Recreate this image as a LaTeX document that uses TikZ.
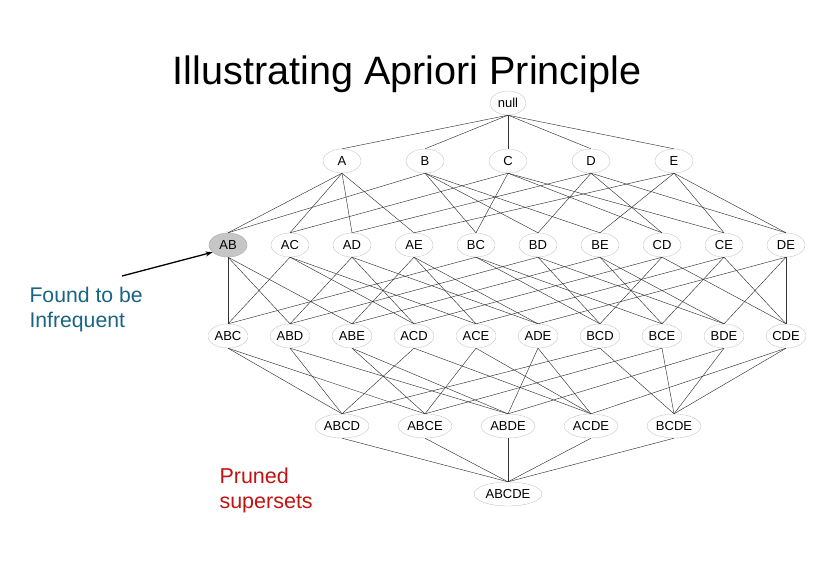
\documentclass[tikz,border=0pt]{standalone}
\usepackage{fontspec}
\setmainfont{Liberation Sans}
\usepackage{tikz}
\usetikzlibrary{shapes.geometric, arrows.meta}
\definecolor{notetxt}{RGB}{24,100,132}
\definecolor{prunetxt}{RGB}{196,18,18}

\begin{document}
\begin{tikzpicture}[x=1pt, y=-1pt,
  item/.style={ellipse, draw=gray!45, thin, inner sep=0pt,
               minimum height=24pt, font=\fontsize{13}{13}\selectfont},
  link/.style={draw=black!80, line width=0.45pt}]
  \useasboundingbox (0,0) rectangle (813,566);

  \node[anchor=base, font=\fontsize{39.6}{40}\selectfont] (title)
    at (407,84) {Illustrating Apriori Principle};

  % the itemset lattice
  \node[item, minimum width=36pt] (null) at (508,103) {null};
  \foreach \n [count=\i from 0] in {A,B,C,D,E}
    \node[item, minimum width=38pt] (\n) at ({508+83*(\i-2)},161) {\n};
  \foreach \n [count=\i from 0] in {AB,AC,AD,AE,BC,BD,BE,CD,CE,DE}
    \node[item, minimum width=38pt] (\n) at ({228+62*\i},245) {\n};
  \foreach \n [count=\i from 0] in {ABC,ABD,ABE,ACD,ACE,ADE,BCD,BCE,BDE,CDE}
    \node[item, minimum width=40pt] (\n) at ({228+62*\i},336) {\n};
  \foreach \n [count=\i from 0] in {ABCD,ABCE,ABDE,ACDE,BCDE}
    \node[item, minimum width=54pt] (\n) at ({508+83*(\i-2)},426) {\n};
  \node[item, minimum width=68pt] (ABCDE) at (508,494) {ABCDE};

  \node[item, minimum width=38pt, fill=gray!45, draw=gray!60] at (AB) {AB};

  \foreach \p/\cs in
    {null/{A,B,C,D,E},
     A/{AB,AC,AD,AE}, B/{AB,BC,BD,BE}, C/{AC,BC,CD,CE},
     D/{AD,BD,CD,DE}, E/{AE,BE,CE,DE},
     AB/{ABC,ABD,ABE}, AC/{ABC,ACD,ACE}, AD/{ABD,ACD,ADE},
     AE/{ABE,ACE,ADE}, BC/{ABC,BCD,BCE}, BD/{ABD,BCD,BDE},
     BE/{ABE,BCE,BDE}, CD/{ACD,BCD,CDE}, CE/{ACE,BCE,CDE},
     DE/{ADE,BDE,CDE},
     ABC/{ABCD,ABCE}, ABD/{ABCD,ABDE}, ABE/{ABCE,ABDE},
     ACD/{ABCD,ACDE}, ACE/{ABCE,ACDE}, ADE/{ABDE,ACDE},
     BCD/{ABCD,BCDE}, BCE/{ABCE,BCDE}, BDE/{ABDE,BCDE},
     CDE/{ACDE,BCDE},
     ABCD/{ABCDE}, ABCE/{ABCDE}, ABDE/{ABCDE}, ACDE/{ABCDE},
     BCDE/{ABCDE}} {
    \foreach \c in \cs
      \draw[link] (\p.south) -- (\c.north);
  }

  % annotations
  \node[anchor=base west, align=left, text=notetxt,
        font=\fontsize{21.2}{25}\selectfont] (infreq)
    at (26,327) {Found to be\\Infrequent};
  \node[anchor=base west, align=left, text=prunetxt,
        font=\fontsize{21.5}{25}\selectfont] (pruned)
    at (216,508) {Pruned\\supersets};

  \coordinate (tail) at (122,276);
  \draw[-{Stealth[length=7pt, width=5pt]}, line width=1.3pt]
    (tail) -- (AB.205);
\end{tikzpicture}
\end{document}
